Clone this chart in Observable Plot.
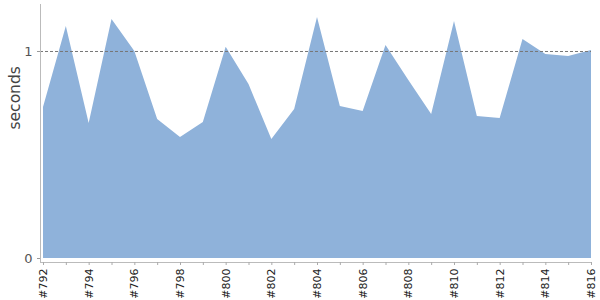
<!DOCTYPE html>
<html>
<head>
<meta charset="utf-8">
<script src="https://cdn.jsdelivr.net/npm/d3@7"></script>
<script src="https://cdn.jsdelivr.net/npm/@observablehq/plot@0.6"></script>
<style>
  html, body { margin: 0; padding: 0; background: #fff; }
</style>
</head>
<body>
<div id="chart"></div>
<script>
const builds = ["#792","#793","#794","#795","#796","#797","#798","#799","#800","#801","#802","#803","#804","#805","#806","#807","#808","#809","#810","#811","#812","#813","#814","#815","#816"];
const seconds = [0.729,1.121,0.652,1.155,1.0,0.671,0.584,0.657,1.02,0.84,0.575,0.72,1.164,0.734,0.71,1.029,0.86,0.696,1.145,0.686,0.676,1.058,0.986,0.976,1.005];
const yTicks = [0, 1];
const threshold = [1];

const data = builds.map((b, i) => ({build: b, idx: i, value: seconds[i]}));
const idxTicks = builds.map((b, i) => i);

const chart = Plot.plot({
  width: 600,
  height: 300,
  marginLeft: 40,
  marginRight: 9,
  marginTop: 4,
  marginBottom: 38,
  style: {fontFamily: "DejaVu Sans", background: "#fff"},
  x: {type: "linear", domain: [0, builds.length - 1], insetLeft: 3},
  y: {domain: [0, 1.227], insetBottom: 4},
  marks: [
    Plot.areaY(data, {x: "idx", y: "value", fill: "#8fb2da", fillOpacity: 1, curve: "linear"}),
    Plot.ruleY(threshold, {stroke: "#777", strokeDasharray: "3,2", strokeWidth: 1}),
    Plot.frame({anchor: "left", stroke: "#bbb"}),
    Plot.frame({anchor: "bottom", stroke: "#bbb"}),
    Plot.axisY(yTicks, {ticks: yTicks, tickSize: 3, tickPadding: 5, fontSize: 13, fill: "#555", stroke: "#999", label: null, tickFormat: d => String(d)}),
    Plot.axisX(idxTicks, {ticks: idxTicks, tickSize: 3, tickPadding: 3, tickRotate: -90, fontSize: 11, fill: "#222", stroke: "#aaa",
      tickFormat: (i) => (i % 2 ? "" : builds[i]), label: null}),
    Plot.text(["seconds"], {frameAnchor: "left", rotate: -90, dx: -25, dy: -4, fontSize: 15.5, fill: "#444", text: d => d})
  ]
});
document.getElementById("chart").appendChild(chart);
</script>
</body>
</html>
